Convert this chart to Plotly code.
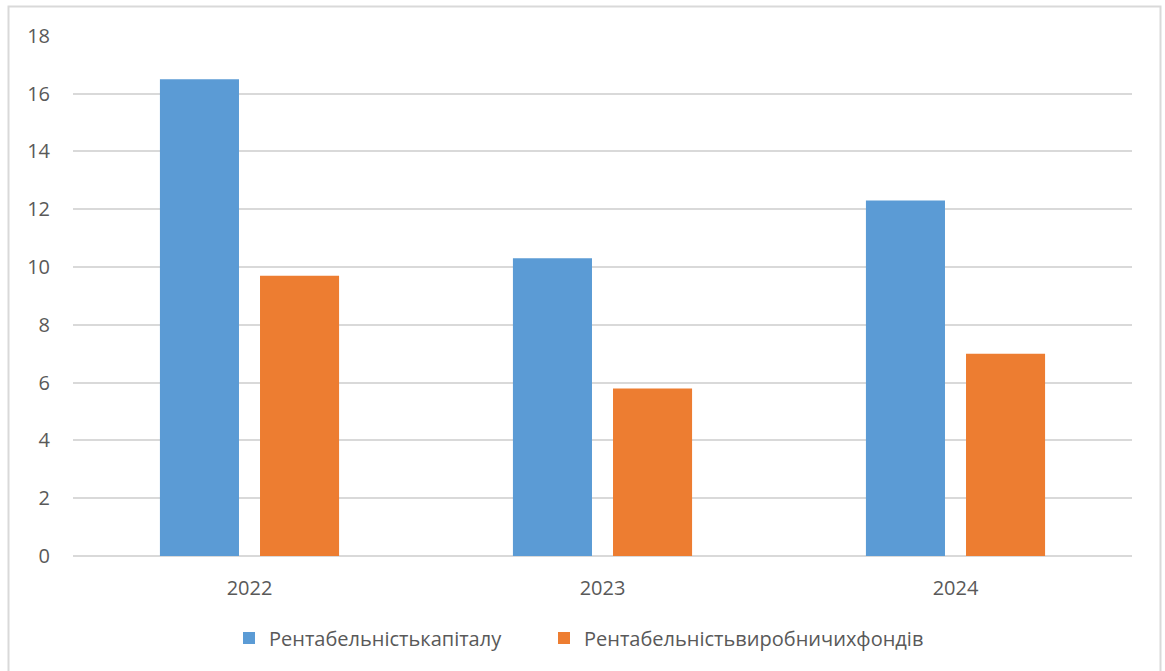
import plotly.graph_objects as go

years = ["2022", "2023", "2024"]
capital = [16.5, 10.3, 12.3]
funds = [9.7, 5.8, 7.0]
series_names = ["Рентабельністькапіталу", "Рентабельністьвиробничихфондів"]
y_ticks = [0, 2, 4, 6, 8, 10, 12, 14, 16, 18]

W, H = 1165, 671
L, R, T, B = 73, 33, 35, 115
pw, ph = W - L - R, H - T - B

def px_x(x):
    return (x - L) / pw

def px_y(y):
    return (H - B - y) / ph

fig = go.Figure()
fig.add_trace(go.Bar(x=years, y=capital, name=series_names[0], legend="legend", showlegend=True,
                     marker=dict(color="#5B9BD5", line=dict(width=0))))
fig.add_trace(go.Bar(x=years, y=funds, name=series_names[1], legend="legend2", showlegend=True,
                     marker=dict(color="#ED7D31", line=dict(width=0))))

leg_common = dict(orientation="h", yanchor="middle", y=px_y(638), xanchor="left",
                  font=dict(size=20, color="#595959"), bgcolor="rgba(0,0,0,0)", visible=True)

fig.update_layout(
    width=W, height=H,
    margin=dict(l=L, r=R, t=T, b=B),
    paper_bgcolor="white", plot_bgcolor="white",
    showlegend=True,
    barmode="group", bargap=0.433, bargroupgap=0.21,
    font=dict(family="Open Sans", color="#595959", size=20),
    legend=dict(x=px_x(229), **leg_common),
    legend2=dict(x=px_x(544), **leg_common),
    xaxis=dict(showgrid=False, showline=False, ticks="", tickfont=dict(size=20), fixedrange=True,
               ticklabelstandoff=18),
    yaxis=dict(range=[0, 18.03], tickvals=y_ticks, showgrid=True, gridcolor="#d9d9d9", gridwidth=1.6,
               zeroline=True, zerolinecolor="#d9d9d9", zerolinewidth=1.6,
               showline=False, ticks="", tickfont=dict(size=20), ticklabelstandoff=22),
    shapes=[dict(type="rect", xref="paper", yref="paper",
                 x0=px_x(8.5), x1=px_x(1160.5), y0=px_y(672), y1=px_y(6.5),
                 line=dict(color="#d9d9d9", width=2), layer="below")],
)

fig.write_html("out.html")
